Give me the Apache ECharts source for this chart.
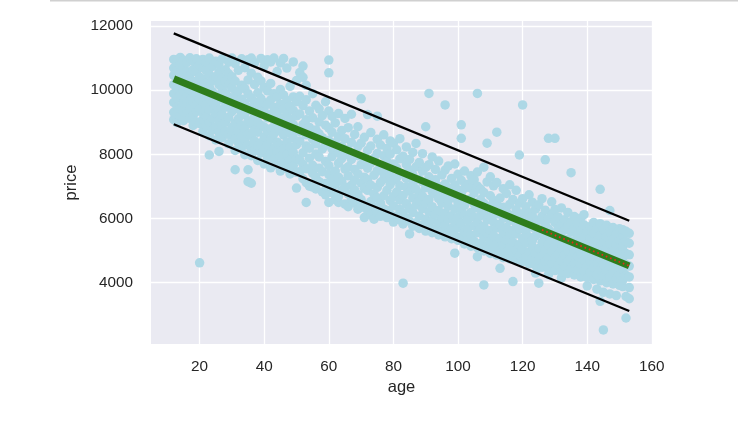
<!DOCTYPE html>
<html>
<head>
<meta charset="utf-8">
<script src="https://cdn.jsdelivr.net/npm/echarts@6/dist/echarts.min.js"></script>
<style>
  html, body { margin: 0; padding: 0; background: #fff; }
  #chart { width: 738px; height: 434px; }
</style>
</head>
<body>
<div id="chart"></div>
<script>
// tick labels
var xTicks = [20, 40, 60, 80, 100, 120, 140, 160];
var yTicks = [4000, 6000, 8000, 10000, 12000];

// fitted line and prediction band (age, price at both ends)
var lineAge = [12, 153];
var fitPrice = [10355, 4525];
var upperPrice = [11770, 5930];
var lowerPrice = [8940, 3120];
// red dotted stretch drawn over the fit
var redAge = [126, 153];
var redPrice = [5645, 4525];

// observations, one row per age: [age, price, price, ...]
var carsYoung = [
  [12, 9080, 9310, 9620, 9890, 10170, 10460, 10690, 10960],
  [13, 8990, 9480, 9750, 10030, 10320, 10610, 10880],
  [14, 9190, 9420, 9860, 10240, 10520, 10790, 11020],
  [15, 9050, 9330, 9600, 9980, 10390, 10700, 10930],
  [16, 9260, 9540, 9790, 10110, 10580, 10860],
  [17, 9120, 9400, 9700, 10020, 10300, 10480, 11010],
  [18, 8900, 9210, 9650, 9940, 10270, 10640, 10900],
  [19, 9010, 9330, 9560, 9860, 10190, 10570, 10980],
  [20, 4620, 8960, 9420, 9720, 10090, 10410, 10780],
  [21, 8720, 9090, 9290, 9640, 9990, 10350, 10700, 10960],
  [22, 8870, 9180, 9530, 9880, 10230, 10620, 10880],
  [23, 7980, 8580, 8990, 9400, 9740, 10110, 10490, 11000],
  [24, 8760, 9120, 9610, 9950, 10300, 10740],
  [25, 8450, 8860, 9270, 9520, 9860, 10420, 10900],
  [26, 8090, 8680, 9060, 9390, 9800, 10170, 10560, 10820],
  [27, 8520, 8930, 9230, 9690, 10040, 10370, 10980],
  [28, 8710, 9000, 9470, 9900, 10260, 10640],
  [29, 8330, 8620, 9150, 9580, 9780, 10190, 10510, 10870],
  [30, 8590, 8840, 9330, 9690, 10060, 10420, 11000],
  [31, 7520, 8120, 8470, 8980, 9420, 9820, 10280, 10830],
  [32, 8360, 8730, 9110, 9560, 9980, 10620],
  [33, 8210, 8560, 8900, 9290, 9720, 10150, 10980],
  [34, 7990, 8450, 8800, 9240, 9600, 10050, 10700],
  [35, 7150, 7520, 8290, 8640, 9050, 9460, 9890, 10320, 10950],
  [36, 7100, 7960, 8180, 8580, 8950, 9380, 9760, 10530, 11000],
  [37, 8110, 8420, 8760, 9190, 9630, 10180, 10850],
  [38, 7810, 8270, 8690, 9000, 9480, 9920, 10400],
  [39, 8050, 8360, 8910, 9270, 9740, 10290, 10990],
  [40, 7700, 8150, 8540, 8850, 9350, 9610, 10090, 10760],
  [41, 7900, 8290, 8730, 9140, 9560, 9980, 10950],
  [42, 7580, 8030, 8470, 8800, 9250, 9700, 10210, 10880],
  [43, 7850, 8200, 8640, 9060, 9470, 9890, 11000],
  [44, 7670, 8090, 8380, 8900, 9330, 9780, 10580],
  [45, 7480, 7940, 8290, 8720, 9140, 9560, 10020, 10850],
  [46, 7730, 8160, 8600, 8990, 9420, 9850, 10990],
  [47, 7560, 7980, 8380, 8820, 9260, 9680, 10690],
  [48, 7390, 7830, 8230, 8650, 9090, 9500, 10120],
  [49, 7650, 8060, 8510, 8930, 9370, 9790, 10880],
  [50, 6950, 7440, 7870, 8300, 8750, 9200, 9640, 10300]
];
var carsMiddle = [
  [51, 7460, 7830, 8420, 8710, 9260, 9810, 10550],
  [52, 7240, 7690, 8050, 8930, 9520, 10400, 10750],
  [53, 6500, 7120, 7550, 8260, 8610, 9080, 9700, 10150],
  [54, 7010, 7880, 8190, 8840, 9350],
  [55, 6980, 7410, 7660, 8470, 9140, 9890],
  [56, 6920, 7280, 8010, 8330, 8760, 9530],
  [57, 7150, 7570, 7920, 8640, 9010, 9420],
  [58, 6830, 7460, 8170, 8520, 9210],
  [59, 6740, 7090, 7780, 8290, 8910, 9640],
  [60, 6500, 6960, 7370, 7650, 8440, 8820, 9350, 10540, 10940],
  [61, 6810, 7220, 7930, 8170, 8690, 9180],
  [62, 6590, 7060, 7480, 8360, 8980],
  [63, 6500, 6690, 7290, 7720, 8050, 8550, 9270],
  [64, 6870, 7160, 7870, 8260, 8740],
  [65, 6450, 6980, 7540, 7990, 8490, 9120],
  [66, 6370, 6770, 7330, 7610, 8140, 8830],
  [67, 6620, 7040, 7840, 8370, 9250],
  [68, 6480, 6890, 7190, 7530, 8010, 8620],
  [69, 6290, 6750, 7390, 7960, 8240, 8860],
  [70, 6350, 6590, 7110, 7680, 8350, 9730],
  [71, 6030, 6420, 6940, 7290, 7820, 8530],
  [72, 6250, 6880, 7210, 7570, 8120, 9240],
  [73, 6110, 6530, 7040, 7730, 8260, 8680],
  [74, 5980, 6360, 6760, 7350, 7880],
  [75, 6190, 6640, 6970, 7490, 8030, 8470, 9190],
  [76, 6070, 6480, 7120, 7640, 8290],
  [77, 6300, 6710, 7230, 7410, 7960, 8610],
  [78, 6030, 6250, 6880, 7520, 7780, 8180],
  [79, 6140, 6560, 7060, 7330, 8010, 8420],
  [80, 5890, 6390, 6690, 7190, 7700, 8350],
  [81, 6080, 6830, 7270, 7580, 8140],
  [82, 5960, 6280, 6570, 7020, 7860, 8490],
  [83, 3985, 5830, 6170, 6720, 7390, 7940],
  [84, 6010, 6460, 6980, 7250, 7680, 8230],
  [85, 5520, 5920, 6310, 6850, 7510, 7840],
  [86, 5760, 6190, 6640, 7080, 7370, 8060],
  [87, 5870, 6420, 6920, 7610, 8340],
  [88, 5690, 6080, 6560, 6790, 7220, 7750],
  [89, 5790, 6310, 6700, 7140, 7480, 8020],
  [90, 5610, 5980, 6480, 6960, 7590, 8860],
  [91, 5830, 6210, 6590, 7300, 7680, 9900],
  [92, 5560, 5950, 6370, 6840, 7110, 7920],
  [93, 5680, 6130, 6760, 7210, 7530],
  [94, 5490, 5870, 6250, 6620, 7000, 7790],
  [95, 5600, 6020, 6480, 6890, 7360],
  [96, 5430, 5780, 6170, 6710, 7080, 7510, 9540],
  [97, 5560, 5980, 6380, 6560, 6950, 7640],
  [98, 5370, 5690, 6090, 6820, 7250],
  [99, 4920, 5480, 5870, 6300, 6640, 7040, 7700],
  [100, 5320, 5710, 6030, 6490, 6890, 7380]
];
var carsOld = [
  [101, 5430, 5850, 6260, 6770, 7190, 8500, 8920],
  [102, 5210, 5590, 6120, 6410, 6940, 7480],
  [103, 5340, 5690, 5960, 6560, 7070],
  [104, 5140, 5480, 6190, 6620, 6950, 7330],
  [105, 5290, 5770, 6040, 6450, 6800, 7210],
  [106, 4810, 5090, 5560, 5870, 6330, 7010, 7450, 9900],
  [107, 5220, 5680, 6090, 6590, 6920],
  [108, 3930, 4990, 5410, 5760, 6220, 6470, 6810, 7600],
  [109, 5150, 5540, 5960, 6380, 7140, 8350],
  [110, 4910, 5300, 5630, 6060, 6710, 7300],
  [111, 5080, 5470, 5890, 6290, 6560, 7020],
  [112, 4860, 5230, 5710, 6140, 6460, 7120, 8690],
  [113, 4450, 5010, 5380, 5820, 6640],
  [114, 4780, 5150, 5560, 6010, 6350, 6930],
  [115, 4970, 5340, 5720, 6210, 6780],
  [116, 4740, 5090, 5460, 5940, 6440, 7050],
  [117, 4035, 4890, 5260, 5630, 6100, 6590],
  [118, 4700, 5010, 5520, 5830, 6270, 6880],
  [119, 4850, 5190, 5680, 6030, 6480, 7980],
  [120, 4660, 5030, 5380, 5760, 6150, 6620, 9540],
  [121, 4800, 5240, 5570, 5960, 6370],
  [122, 4590, 4960, 5420, 5890, 6180, 6740],
  [123, 4760, 5120, 5310, 5730, 6080, 6510],
  [124, 4300, 4550, 4920, 5460, 5880, 6290],
  [125, 3985, 4710, 5070, 5620, 5950, 6430],
  [126, 4480, 4840, 5260, 5510, 6070, 6620],
  [127, 4650, 5010, 5390, 5820, 6260, 7830],
  [128, 4250, 4430, 4790, 5180, 5670, 5990, 8500],
  [129, 4610, 4970, 5330, 5560, 6140, 6520],
  [130, 4380, 4760, 5120, 5490, 5880, 6280, 8500],
  [131, 4560, 4890, 5270, 5710, 6050],
  [132, 4150, 4340, 4690, 5050, 5430, 5820, 6330],
  [133, 4510, 4860, 5210, 5640, 5960],
  [134, 4290, 4640, 4990, 5350, 5760, 6190],
  [135, 4470, 4780, 5160, 5580, 5900, 7430],
  [136, 4240, 4590, 4940, 5310, 5690, 6060],
  [137, 4420, 4810, 5120, 5480, 5860],
  [138, 4180, 4550, 4880, 5260, 5630, 6010],
  [139, 4370, 4700, 5040, 5420, 5800, 6120],
  [140, 3900, 4160, 4510, 4840, 5220, 5590],
  [141, 4310, 4660, 4980, 5370, 5750],
  [142, 4100, 4470, 4790, 5150, 5530, 5880],
  [143, 3800, 4250, 4620, 4950, 5310, 5690],
  [144, 3420, 4060, 4400, 4750, 5110, 5480, 5840, 6910],
  [145, 2530, 3700, 4210, 4560, 4900, 5260, 5650],
  [146, 4000, 4350, 4700, 5060, 5430, 5790],
  [147, 3650, 4170, 4510, 4860, 5210, 5580, 6250],
  [148, 3960, 4300, 4640, 5000, 5370, 5720],
  [149, 3600, 4120, 4460, 4810, 5170, 5520],
  [150, 3920, 4260, 4600, 4950, 5320, 5680],
  [151, 3880, 4080, 4410, 4760, 5120, 5470, 5650],
  [152, 2900, 3570, 4230, 4570, 4910, 5280, 5600],
  [153, 3500, 3850, 4180, 4520, 4870, 5230, 5540]
];

function rowsToPoints(rows) {
  var pts = [];
  rows.forEach(function (r) {
    for (var i = 1; i < r.length; i++) pts.push([r[0], r[i]]);
  });
  return pts;
}
function pairUp(xs, ys) {
  return xs.map(function (x, i) { return [x, ys[i]]; });
}

var scatterData = rowsToPoints(carsYoung)
  .concat(rowsToPoints(carsMiddle))
  .concat(rowsToPoints(carsOld));

var textColor = '#262626';
var font = 'Liberation Sans, Arial, sans-serif';
var plain = function (v) { return String(v); };

var chart = echarts.init(document.getElementById('chart'), null, { renderer: 'canvas' });
chart.setOption({
  animation: false,
  backgroundColor: '#ffffff',
  grid: { left: 151, right: 86, top: 21, bottom: 90, containLabel: false,
    show: true, backgroundColor: '#eaeaf2', borderWidth: 0 },
  xAxis: {
    type: 'value', min: 4.95, max: 160.05,
    name: 'age', nameLocation: 'middle', nameGap: 31,
    nameTextStyle: { color: textColor, fontSize: 16.5, fontFamily: font },
    axisLine: { show: false },
    axisTick: { show: false, customValues: xTicks },
    axisLabel: { customValues: xTicks, formatter: plain, color: textColor, fontSize: 15.3, fontFamily: font, margin: 15 },
    splitLine: { show: true, lineStyle: { color: '#ffffff', width: 1.3 } }
  },
  yAxis: {
    type: 'value', min: 2090, max: 12156,
    name: 'price', nameLocation: 'middle', nameGap: 68, nameRotate: 90,
    nameTextStyle: { color: textColor, fontSize: 16.5, fontFamily: font },
    axisLine: { show: false },
    axisTick: { show: false, customValues: yTicks },
    axisLabel: { customValues: yTicks, formatter: plain, color: textColor, fontSize: 15.3, fontFamily: font, margin: 18 },
    splitLine: { show: true, lineStyle: { color: '#ffffff', width: 1.3 } }
  },
  graphic: [{
    type: 'line', silent: true,
    shape: { x1: 50, y1: 0.75, x2: 738, y2: 0.75 },
    style: { stroke: '#d0d0d0', lineWidth: 1.5 }
  }],
  series: [
    {
      type: 'scatter', data: scatterData, symbolSize: 9.5,
      itemStyle: { color: '#add8e6', opacity: 1 }, z: 2
    },
    {
      type: 'line', data: pairUp(lineAge, upperPrice), symbol: 'none',
      lineStyle: { color: '#000000', width: 2.3 }, z: 3
    },
    {
      type: 'line', data: pairUp(lineAge, lowerPrice), symbol: 'none',
      lineStyle: { color: '#000000', width: 2.3 }, z: 3
    },
    {
      type: 'line', data: pairUp(lineAge, fitPrice), symbol: 'none',
      lineStyle: { color: '#2e7d1c', width: 7 }, z: 4
    },
    {
      type: 'line', data: pairUp(redAge, redPrice), symbol: 'none',
      lineStyle: { color: '#e02a1a', width: 1.8, type: [1.6, 3] }, z: 5
    }
  ]
});
</script>
</body>
</html>
